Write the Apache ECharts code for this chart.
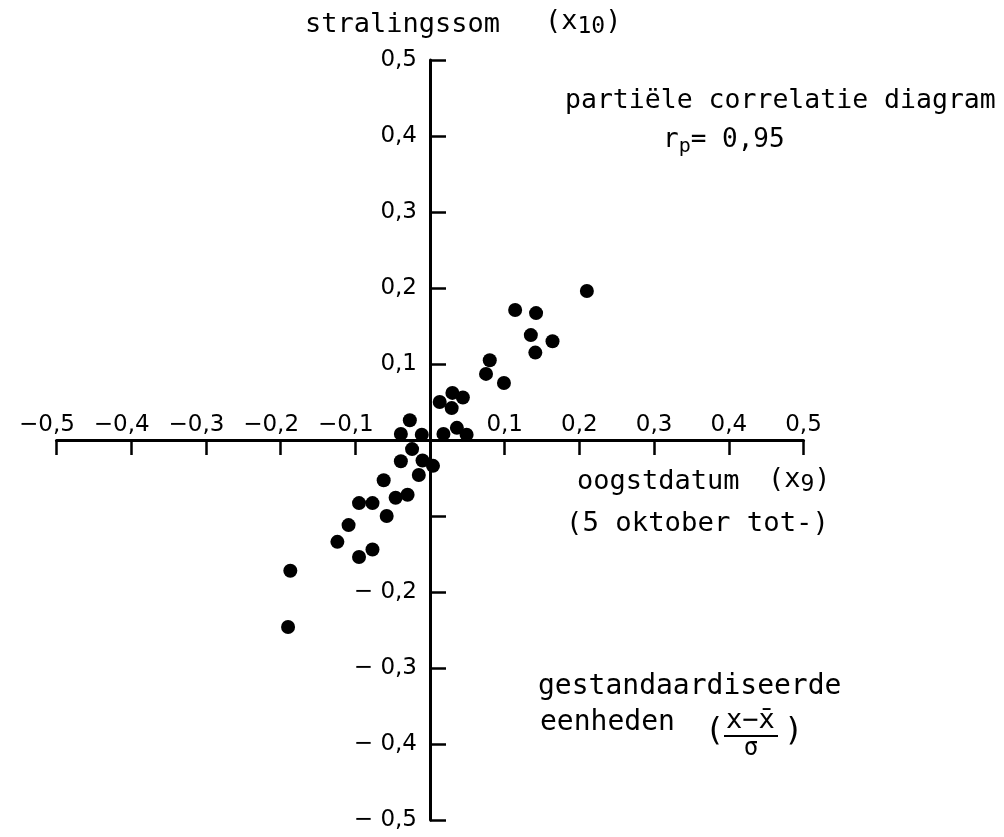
<!DOCTYPE html>
<html><head><meta charset="utf-8">
<script src="https://cdn.jsdelivr.net/npm/echarts@6/dist/echarts.min.js"></script>
<style>html,body{margin:0;padding:0;background:#fff}#c{width:1004px;height:837px}</style>
</head><body><div id="c"></div>
<script>
// oogstdatum (x9), standardized
const xValues = [0.210, 0.114, 0.142, 0.135, 0.164, 0.141, 0.080, 0.075, 0.099, 0.013,
                 0.030, 0.044, 0.029, 0.018, 0.036, 0.049, -0.027, -0.039, -0.011, -0.024,
                 -0.039, -0.010, 0.004, -0.015, -0.062, -0.046, -0.030, -0.095, -0.077, -0.058,
                 -0.109, -0.124, -0.077, -0.095, -0.187, -0.190];
// stralingssom (x10), standardized
const yValues = [0.196, 0.171, 0.167, 0.138, 0.130, 0.115, 0.105, 0.087, 0.075, 0.050,
                 0.062, 0.056, 0.042, 0.008, 0.016, 0.007, 0.026, 0.008, 0.007, -0.012,
                 -0.028, -0.027, -0.034, -0.046, -0.053, -0.076, -0.072, -0.083, -0.083, -0.100,
                 -0.112, -0.134, -0.144, -0.154, -0.172, -0.246];

const xTickValues = [-0.5, -0.4, -0.3, -0.2, -0.1, 0.1, 0.2, 0.3, 0.4, 0.5];
const xTickLabels = ['−0,5', '−0,4', '−0,3', '−0,2', '−0,1', '0,1', '0,2', '0,3', '0,4', '0,5'];
const yTickValues = [0.5, 0.4, 0.3, 0.2, 0.1, -0.2, -0.3, -0.4, -0.5];
const yTickLabels = ['0,5', '0,4', '0,3', '0,2', '0,1', '− 0,2', '− 0,3', '− 0,4', '− 0,5'];

const yTitle = 'stralingssom';
const yTitleVar = ['(x', '10', ')'];
const xTitle = 'oogstdatum';
const xTitleVar = ['(x', '9', ')'];
const xSubtitle = '(5 oktober tot-)';
const diagramTitle = 'partiële correlatie diagram';
const corrLabel = ['r', 'p', '= 0,95'];
const unitsLine1 = 'gestandaardiseerde';
const unitsLine2 = 'eenheden';
const unitsFormula = ['(', 'x−x̄', 'σ', ')'];

const MONO = 'DejaVu Sans Mono';
const SANS = 'DejaVu Sans';
const chart = echarts.init(document.getElementById('c'), null, {renderer: 'canvas'});

function lookup(vals, labels, v) {
  const i = vals.findIndex(t => Math.abs(t - v) < 1e-6);
  return i < 0 ? '' : labels[i];
}
const lbl = {fontFamily: SANS, fontSize: 23, color: '#000'};

function txt(x, y, text, size, extra) {
  return Object.assign({type: 'text', x: x, y: y, silent: true,
    style: Object.assign({text: text, fontFamily: MONO, fontSize: size, fill: '#000',
      align: 'left', verticalAlign: 'middle'}, extra || {})});
}
function subText(x, y, parts, size, subSize, shift) {
  return {type: 'text', x: x, y: y, silent: true,
    style: {text: '{a|' + parts[0] + '}{s|' + parts[1] + '}' + (parts[2] ? '{a|' + parts[2] + '}' : ''),
      fill: '#000', align: 'left', verticalAlign: 'top',
      rich: {
        a: {fontFamily: MONO, fontSize: size, fill: '#000', lineHeight: size + 4, verticalAlign: 'top'},
        s: {fontFamily: MONO, fontSize: subSize, fill: '#000', lineHeight: subSize + 2,
            padding: [shift, 0, 0, 0], verticalAlign: 'bottom'}
      }}};
}

const L = 56.5, W = 747, T = 60, H = 760;
const axLine = {lineStyle: {color: '#000', width: 3}};
const tick = {lineStyle: {color: '#000', width: 2.5}};

chart.setOption({
  animation: false,
  backgroundColor: '#fff',
  grid: [
    {left: L, width: W, top: T, height: H, outerBoundsMode: 'none', containLabel: false},
    {left: L, width: W, top: T, height: H / 2, outerBoundsMode: 'none', containLabel: false},
    {left: L + W / 2, width: W / 2, top: T, height: H, outerBoundsMode: 'none', containLabel: false}
  ],
  xAxis: [
    {gridIndex: 0, type: 'value', min: -0.5, max: 0.5, interval: 0.1, show: false},
    {
      gridIndex: 1, type: 'value', min: -0.5, max: 0.5, interval: 0.1, position: 'bottom',
      axisLine: Object.assign({onZero: false, show: true}, axLine),
      axisTick: Object.assign({show: true, inside: false, length: 15}, tick),
      splitLine: {show: false},
      axisLabel: {
        inside: true, margin: 3, showMinLabel: true, showMaxLabel: true,
        formatter: function (v) {
          const s = lookup(xTickValues, xTickLabels, v);
          if (!s) return '';
          if (s.charAt(0) === '−') return '{m|−}{n|' + s.slice(1) + '}';
          return '{p|' + s + '}';
        },
        rich: {
          m: Object.assign({padding: [0, 0, 0, 0]}, lbl),
          n: Object.assign({padding: [0, 19, 0, 0]}, lbl),
          p: Object.assign({}, lbl)
        }
      }
    },
    {gridIndex: 2, type: 'value', min: 0, max: 0.5, show: false}
  ],
  yAxis: [
    {gridIndex: 0, type: 'value', min: -0.5, max: 0.5, interval: 0.1, show: false},
    {gridIndex: 1, type: 'value', min: 0, max: 0.5, show: false},
    {
      gridIndex: 2, type: 'value', min: -0.5, max: 0.5, interval: 0.1, position: 'left',
      axisLine: Object.assign({onZero: false, show: true}, axLine),
      axisTick: Object.assign({show: true, inside: true, length: 16}, tick),
      splitLine: {show: false},
      axisLabel: {
        margin: 13, fontFamily: SANS, fontSize: 23, color: '#000',
        showMinLabel: true, showMaxLabel: true,
        formatter: function (v) { return lookup(yTickValues, yTickLabels, v); }
      }
    }
  ],
  series: [{
    type: 'scatter', xAxisIndex: 0, yAxisIndex: 0,
    symbol: 'circle', symbolSize: 14,
    itemStyle: {color: '#000', opacity: 1},
    data: xValues.map((x, i) => [x, yValues[i]])
  }],
  graphic: [
    txt(305, 25, yTitle, 27),
    subText(545, 8, yTitleVar, 27, 23, 12),
    txt(565, 101, diagramTitle, 26.5),
    subText(663, 127, corrLabel, 26, 20, 10),
    txt(577, 482, xTitle, 27),
    subText(768, 466, xTitleVar, 27, 23, 12),
    txt(566, 524, xSubtitle, 27.3),
    txt(538, 687, unitsLine1, 28),
    txt(540, 723, unitsLine2, 28),
    txt(705, 732, unitsFormula[0], 32),
    txt(726, 721, unitsFormula[1], 27),
    {type: 'line', silent: true, shape: {x1: 724, y1: 736, x2: 778, y2: 736}, style: {stroke: '#000', lineWidth: 2}},
    txt(751, 749, unitsFormula[2], 24, {align: 'center'}),
    txt(784, 732, unitsFormula[3], 32)
  ]
});
</script>
</body></html>
